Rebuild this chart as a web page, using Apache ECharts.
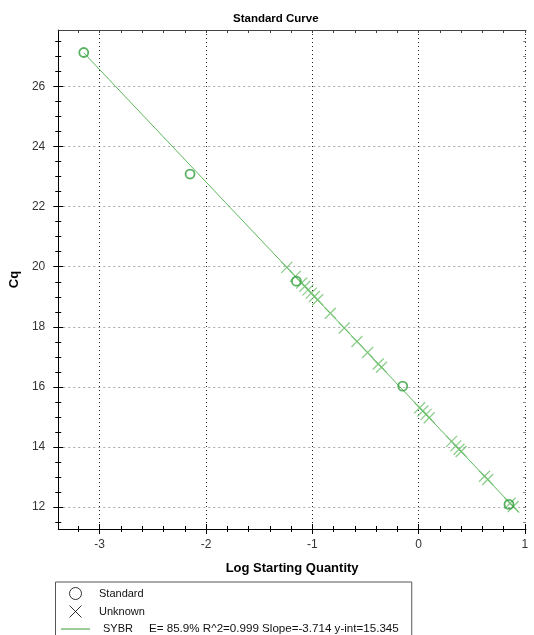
<!DOCTYPE html>
<html><head><meta charset="utf-8">
<script src="https://cdn.jsdelivr.net/npm/echarts@6/dist/echarts.min.js"></script>
<style>html,body{margin:0;padding:0;background:#fff}#c{width:534px;height:635px}</style>
</head><body><div id="c"></div>
<script>
// ---- data ----
const stdX = [-3.15, -2.15, -1.15, -0.15, 0.85];
const stdCq = [27.14, 23.09, 19.52, 16.02, 12.08];
const unkX = [-1.24, -1.16, -1.10, -1.07, -1.04, -1.01, -0.98, -0.95, -0.83, -0.70, -0.58, -0.48, -0.38, -0.35,
              0.01, 0.04, 0.07, 0.10, 0.31, 0.35, 0.38, 0.40, 0.62, 0.65, 0.86, 0.89];
const unkCq = [19.98, 19.68, 19.46, 19.35, 19.23, 19.12, 19.01, 18.90, 18.45, 17.96, 17.51, 17.14, 16.76, 16.65,
               15.30, 15.19, 15.08, 14.97, 14.18, 14.03, 13.92, 13.84, 13.02, 12.91, 12.12, 12.01];
const fitX = [-3.15, 0.945];
const fitCq = [27.13, 11.80];
const xMajorTicks = [-3, -2, -1, 0, 1];
const xMinorTicks = [-3.2, -2.8, -2.6, -2.4, -2.2, -1.8, -1.6, -1.4, -1.2, -0.8, -0.6, -0.4, -0.2, 0.2, 0.4, 0.6, 0.8];
const yMajorTicks = [12, 14, 16, 18, 20, 22, 24, 26];
const yMinorTicks = [11.5, 12.5, 13, 13.5, 14.5, 15, 15.5, 16.5, 17, 17.5, 18.5, 19, 19.5, 20.5, 21, 21.5,
                     22.5, 23, 23.5, 24.5, 25, 25.5, 26.5, 27, 27.5];
const titleText = 'Standard Curve';
const xName = 'Log Starting Quantity';
const yName = 'Cq';
const stdName = 'Standard';
const unkName = 'Unknown';
const fitName = 'SYBR';
const fitStats = 'E= 85.9% R^2=0.999 Slope=-3.714 y-int=15.345';

const X_MIN = -3.39, X_MAX = 1.01, Y_MIN = 11.26, Y_MAX = 27.89;
const FONT = '"Liberation Sans", Arial, sans-serif';
const xIcon = 'path://M0,0L10,10M10,0L0,10';

function tickAxis(pos, min, max, vals, len, inside, color, showLine) {
  return {
    type: 'value', position: pos, min: min, max: max,
    axisLine: { show: !!showLine, onZero: false, lineStyle: { color: color, width: 1 } },
    axisLabel: { show: false },
    splitLine: { show: false },
    axisTick: { show: true, inside: inside, length: len, customValues: vals, lineStyle: { color: color, width: 1 } }
  };
}

const chart = echarts.init(document.getElementById('c'), null, { renderer: 'canvas' });
chart.setOption({
  animation: false,
  backgroundColor: '#fff',
  textStyle: { fontFamily: FONT },
  title: {
    text: titleText, left: 228, top: 8,
    textStyle: { fontFamily: FONT, fontSize: 11.5, fontWeight: 'bold', color: '#000' }
  },
  grid: { left: 57, top: 30, width: 469, height: 499, containLabel: false },
  xAxis: [
    {
      type: 'value', position: 'bottom', min: X_MIN, max: X_MAX,
      name: xName, nameLocation: 'middle', nameGap: 33,
      nameTextStyle: { fontFamily: FONT, fontSize: 13, fontWeight: 'bold', color: '#000' },
      axisLine: { show: true, onZero: false, lineStyle: { color: '#000', width: 1 } },
      axisTick: { show: true, inside: false, length: 5, customValues: xMajorTicks, lineStyle: { color: '#000' } },
      axisLabel: { show: true, customValues: xMajorTicks, margin: 10, fontSize: 12, color: '#333', fontFamily: FONT },
      splitLine: { show: true, lineStyle: { color: '#222', type: [1, 3], width: 1 } }
    },
    tickAxis('bottom', X_MIN, X_MAX, xMajorTicks, 5, true, '#000'),
    tickAxis('bottom', X_MIN, X_MAX, xMinorTicks, 3, false, '#000'),
    tickAxis('bottom', X_MIN, X_MAX, xMinorTicks, 3, true, '#000'),
    tickAxis('top', X_MIN, X_MAX, xMinorTicks.concat(xMajorTicks), 3, true, '#444', true)
  ],
  yAxis: [
    {
      type: 'value', position: 'left', min: Y_MIN, max: Y_MAX,
      name: yName, nameLocation: 'middle', nameGap: 36, nameRotate: 90,
      nameTextStyle: { fontFamily: FONT, fontSize: 13, fontWeight: 'bold', color: '#000' },
      axisLine: { show: true, onZero: false, lineStyle: { color: '#000', width: 1 } },
      axisTick: { show: true, inside: false, length: 5, customValues: yMajorTicks, lineStyle: { color: '#000' } },
      axisLabel: { show: true, customValues: yMajorTicks, margin: 13, fontSize: 12, color: '#333', fontFamily: FONT },
      splitLine: { show: true, lineStyle: { color: '#aaa', type: [2, 3], width: 1 } }
    },
    tickAxis('left', Y_MIN, Y_MAX, yMajorTicks, 5, true, '#000'),
    tickAxis('left', Y_MIN, Y_MAX, yMinorTicks, 3, false, '#000'),
    tickAxis('left', Y_MIN, Y_MAX, yMinorTicks, 3, true, '#000'),
    tickAxis('right', Y_MIN, Y_MAX, yMinorTicks.concat(yMajorTicks), 3, true, '#888', false)
  ],
  legend: {
    orient: 'vertical', left: 55.5, top: 582, height: 60,
    padding: [5, 13, 6, 5],
    itemWidth: 29, itemHeight: 12, itemGap: 5,
    borderColor: '#555', borderWidth: 1,
    selectedMode: false,
    textStyle: {
      fontFamily: FONT, fontSize: 11, color: '#111',
      rich: {
        s: { fontFamily: FONT, fontSize: 11, color: '#111', padding: [0, 0, 0, 4] },
        a: { fontFamily: FONT, fontSize: 11, color: '#111', width: 46, padding: [0, 0, 0, 8] },
        b: { fontFamily: FONT, fontSize: 11.6, color: '#111' }
      }
    },
    formatter: function (n) {
      return n === fitName ? '{a|' + fitName + '}{b|' + fitStats + '}' : '{s|' + n + '}';
    },
    data: [
      { name: stdName, icon: 'circle', itemStyle: { color: 'transparent', borderColor: '#000', borderWidth: 1 } },
      { name: unkName, icon: xIcon, itemStyle: { color: 'transparent', borderColor: '#000', borderWidth: 1 } },
      { name: fitName, itemStyle: { color: 'transparent', borderColor: 'transparent', borderWidth: 0, opacity: 0 },
        lineStyle: { color: '#3a9a3a', width: 1 } }
    ]
  },
  series: [
    {
      name: fitName, type: 'line', xAxisIndex: 0, yAxisIndex: 0,
      data: fitX.map((x, i) => [x, fitCq[i]]),
      symbol: 'none', showSymbol: false,
      lineStyle: { color: '#5cb85c', width: 1 }, itemStyle: { color: '#3a9a3a' }, z: 2
    },
    {
      name: unkName, type: 'scatter', xAxisIndex: 0, yAxisIndex: 0,
      data: unkX.map((x, i) => [x, unkCq[i]]),
      symbol: xIcon, symbolSize: 11,
      itemStyle: { color: 'transparent', borderColor: '#72c272', borderWidth: 1.3 }, z: 3
    },
    {
      name: stdName, type: 'scatter', xAxisIndex: 0, yAxisIndex: 0,
      data: stdX.map((x, i) => [x, stdCq[i]]),
      symbol: 'circle', symbolSize: 9,
      itemStyle: { color: 'transparent', borderColor: '#2f9e3a', borderWidth: 1.8 }, z: 4
    }
  ]
});
</script>
</body></html>
